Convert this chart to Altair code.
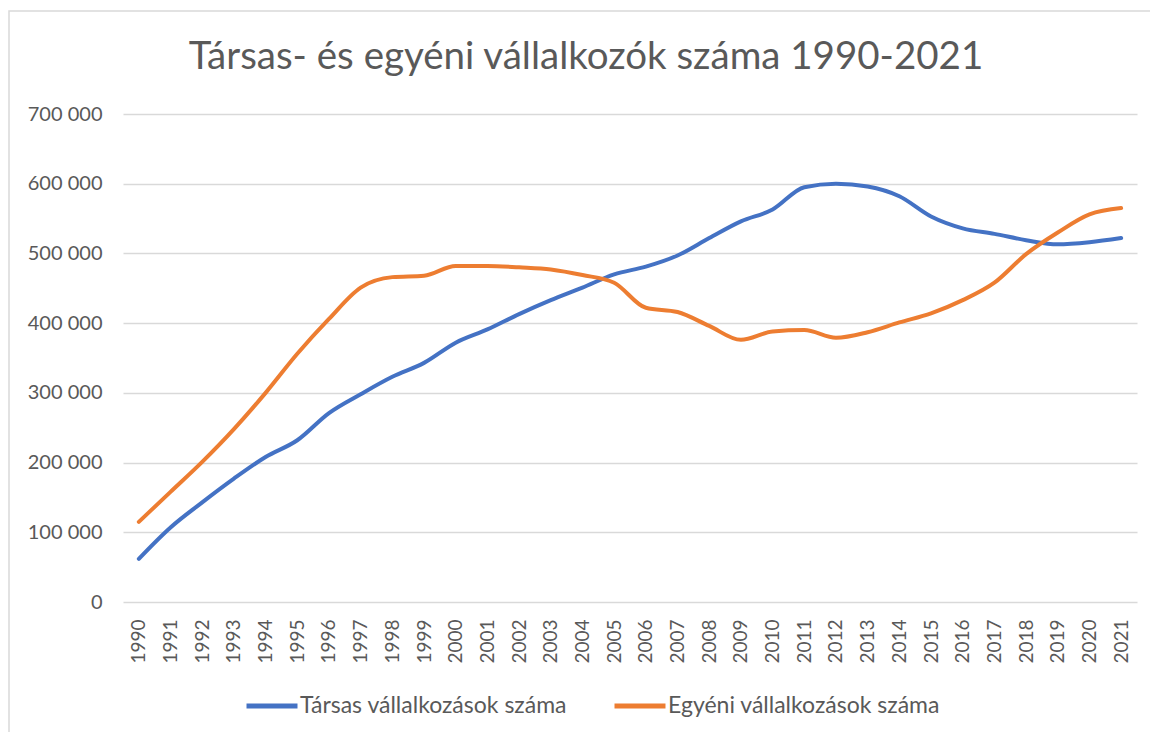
import altair as alt
import pandas as pd

years = [str(y) for y in range(1990, 2022)]
tarsas = [62000, 107000, 143000, 177000, 208000, 232000, 271000, 298000, 323000, 343000,
          372000, 391000, 413000, 433000, 451000, 470000, 481000, 497000, 522000, 546000,
          563000, 595000, 600000, 596000, 582000, 553000, 536000, 528000, 519000, 513000,
          516000, 522000]
egyeni = [115000, 158000, 201000, 248000, 300000, 356000, 406000, 451000, 466000, 468000,
          482000, 482000, 480000, 477000, 469000, 458000, 422000, 416000, 396000, 376000,
          388000, 390000, 379000, 387000, 401000, 414000, 433000, 458000, 499000, 530000,
          556000, 565000]
series_names = ["Társas vállalkozások száma", "Egyéni vállalkozások száma"]
colors = ["#4472C4", "#ED7D31"]
y_ticks = [0, 100000, 200000, 300000, 400000, 500000, 600000, 700000]

rows = []
for name, vals in zip(series_names, [tarsas, egyeni]):
    for y, v in zip(years, vals):
        rows.append({"Év": y, "Érték": v, "Sorozat": name})
df = pd.DataFrame(rows)

W, H = 1014, 488
FONT = "Lato"
GRAY = "#595959"

lines = alt.Chart(df).mark_line(strokeWidth=4, interpolate="monotone", strokeCap="round").encode(
    x=alt.X("Év:O", sort=years, scale=alt.Scale(type="point", padding=0.5),
            axis=alt.Axis(title=None, labelAngle=270, labelPadding=17, ticks=False, domain=False,
                          labelFont=FONT, labelFontSize=19, labelColor=GRAY, grid=False)),
    y=alt.Y("Érték:Q", scale=alt.Scale(domain=[0, 700000], nice=False),
            axis=alt.Axis(title=None, values=y_ticks, ticks=False, domain=False,
                          labelExpr="replace(format(datum.value, ','), ',', ' ')",
                          labelFont=FONT, labelFontSize=20, labelColor=GRAY, labelPadding=21,
                          gridColor="#d9d9d9", gridWidth=1.3)),
    color=alt.Color("Sorozat:N", sort=series_names,
                    scale=alt.Scale(domain=series_names, range=colors),
                    legend=alt.Legend(title=None, orient="none", legendX=121, legendY=564,
                                      direction="horizontal", symbolType="stroke",
                                      symbolSize=2600, symbolStrokeWidth=5,
                                      labelFont=FONT, labelFontSize=23, labelColor=GRAY,
                                      labelLimit=0, labelOffset=0, columnPadding=36)),
)

frame = alt.Chart(pd.DataFrame({"k": [0]})).mark_rect(
    filled=False, stroke="#d9d9d9", strokeWidth=1.5
).encode(
    x=alt.value(-114), y=alt.value(-103), x2=alt.value(W + 60), y2=alt.value(H + 200)
)

chart = alt.layer(frame, lines).properties(
    width=W, height=H,
    title=alt.TitleParams("Társas- és egyéni vállalkozók száma 1990-2021", font=FONT,
                          fontSize=38.5, fontWeight="normal", color=GRAY, anchor="middle",
                          dx=-44, offset=-97, baseline="alphabetic"),
    autosize=alt.AutoSizeParams(type="none"),
    padding={"left": 115, "top": 106, "right": 13, "bottom": 130},
).configure_view(stroke=None)

chart.save("out.html", embed_options={"renderer": "svg", "actions": False})
